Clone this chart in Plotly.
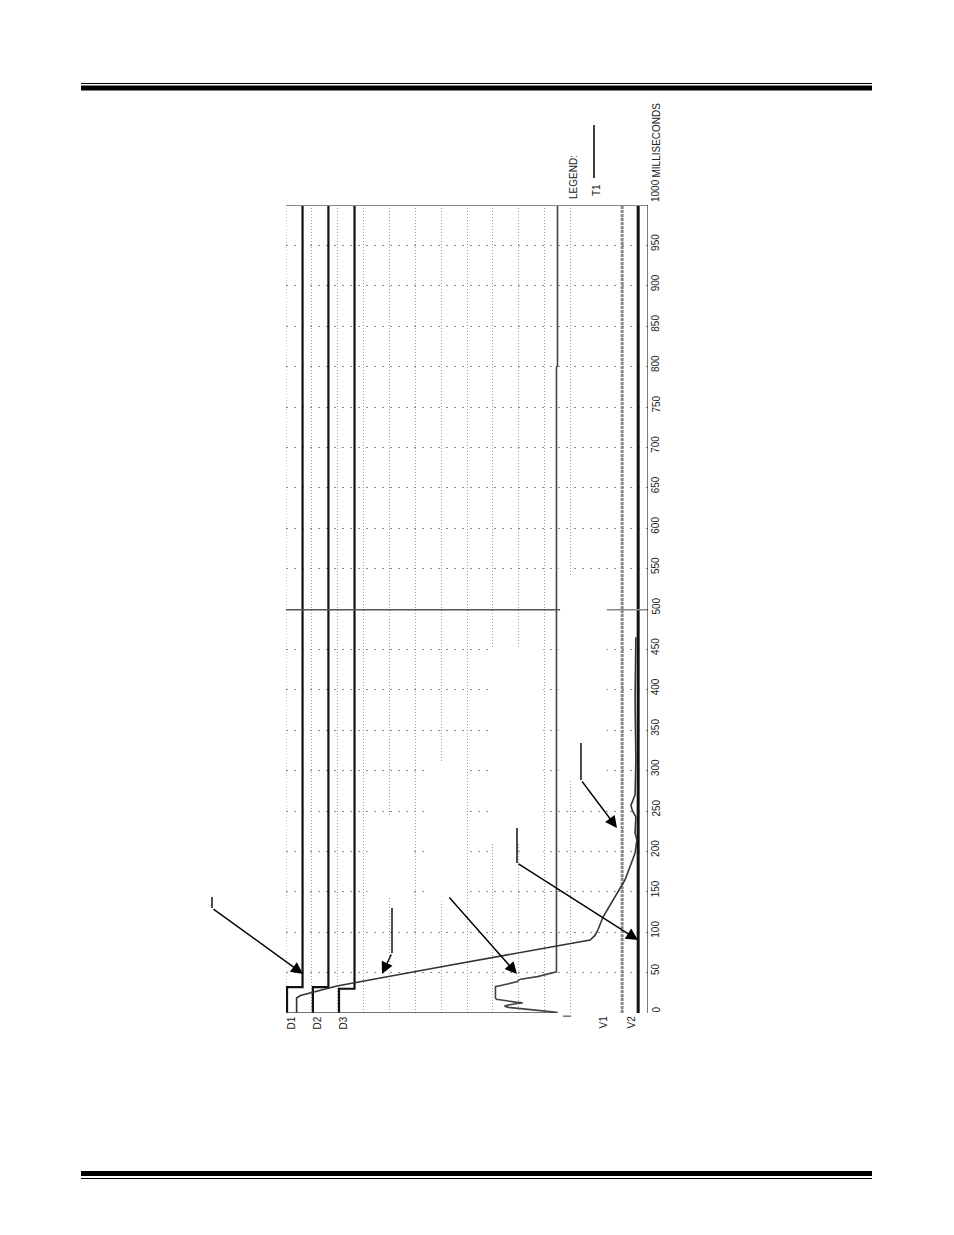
import plotly.graph_objects as go

# ---------------- data (time in ms, channel deflections in grid divisions) -------------
tick_ms = list(range(0, 1001, 50))
channel_names = ["D1", "D2", "D3", "I", "V1", "V2"]

# digital contact channels: state 0 -> 1 at switch time
d1_time = [0, 32, 1000]
d1_state = [0, 1, 1]
d2_time = [0, 32, 1000]
d2_state = [0, 1, 1]
d3_time = [0, 30, 1000]
d3_state = [0, 1, 1]

# coil current trace (deflection from its baseline)
i_time = [0, 1, 3, 5, 7, 8.5, 10, 11.5, 12.5, 13.5, 15, 17, 18.5, 32.5, 36, 38.8, 40.5,
          41.7, 45, 49, 51, 55, 799, 801, 1000]
i_val = [0.0, -0.04, -0.66, -1.32, -1.9, -2.05, -1.9, -1.62, -1.35, -1.62, -2.01, -2.36,
         -2.40, -2.40, -1.93, -1.55, -1.52, -1.43, -0.77, -0.27, -0.04, -0.04, -0.04, 0.0, 0.0]

# voltage channels (flat)
v1_time = [0, 1000]
v1_val = [0, 0]
v2_time = [0, 1000]
v2_val = [0, 0]

# travel trace T1 (grid divisions)
t1_time = [0, 18.6, 21.7, 26, 33.4, 57, 76.7, 87.9, 90.3, 96, 102.7, 118.8, 133.7, 148.5,
           164.6, 180.7, 198, 214, 223, 242.6, 250, 257, 270, 313, 387, 465]
t1_pos = [0.41, 0.41, 0.56, 1.04, 1.97, 5.96, 9.44, 11.37, 11.76, 11.95, 12.06, 12.26,
          12.53, 12.80, 13.11, 13.30, 13.50, 13.57, 13.50, 13.53, 13.40, 13.34, 13.50,
          13.53, 13.50, 13.53]

cursor_ms = [499, 499]

# ---------------- layout constants (page pixel coordinates) ------------------------
BODY = 8                      # default page margin of the html body
PLOT_L, PLOT_T = 286, 205     # plot area top-left on the page
PW, PH = 362, 808
W, H = 954 - 2 * BODY, 1235 - 2 * BODY
ML, MT = PLOT_L - BODY, PLOT_T - BODY
MR, MB = W - ML - PW, H - MT - PH


def px(x):
    return (x - PLOT_L) / PW


def py(y):
    return 1 - (y - PLOT_T) / PH


D_GAIN = 0.6
D_BASE = {"D1": 0.04, "D2": 1.04, "D3": 2.05}
I_BASE = 10.5
V1_BASE = 13.0
V2_BASE = 13.62

fig = go.Figure()


def add_line(x, y, color, width, shape="linear", dash="solid"):
    fig.add_trace(go.Scatter(x=x, y=y, mode="lines", hoverinfo="skip",
                             line=dict(color=color, width=width, shape=shape, dash=dash)))


for name, tt, st in [("D1", d1_time, d1_state), ("D2", d2_time, d2_state), ("D3", d3_time, d3_state)]:
    add_line([D_BASE[name] + s * D_GAIN for s in st], tt, "#111", 2.2, shape="vh")

add_line([V1_BASE + v for v in v1_val], v1_time, "#8a8a8a", 3, dash="3px,1px")
add_line([V2_BASE + v for v in v2_val], v2_time, "#111", 3)
add_line([I_BASE + v for v in i_val], i_time, "#444", 1.6)
add_line(t1_pos, t1_time, "#333", 1.6)
# time cursor
add_line([0, 10.6], cursor_ms, "#555", 1.6)
add_line([12.42, 14], cursor_ms, "#888", 1.6)

shapes = []
# white masks covering erased grid regions (below traces, above grid)
masks = [(10.55, 12.4, 290, 540), (7.9, 9.95, 210, 452), (8.05, 8.95, 195, 205),
         (9.05, 9.95, 195, 205), (5.35, 6.95, 138, 310), (3.15, 4.75, 143, 244),
         (10.55, 10.95, 540, 560)]
for x0, x1, y0, y1 in masks:
    shapes.append(dict(type="rect", xref="x", yref="y", x0=x0, x1=x1, y0=y0, y1=y1,
                       fillcolor="white", line=dict(width=0), layer="between"))
# borders
shapes.append(dict(type="line", xref="x", yref="y", x0=0, x1=0, y0=0, y1=1000,
                   line=dict(color="#9a9a9a", width=1, dash="1px,2px"), layer="below"))
shapes.append(dict(type="line", xref="x", yref="y", x0=0, x1=14, y0=1000, y1=1000,
                   line=dict(color="#8a8a8a", width=2)))
shapes.append(dict(type="line", xref="x", yref="y", x0=14, x1=14, y0=0, y1=1000,
                   line=dict(color="#222", width=1.2)))
shapes.append(dict(type="line", xref="x", yref="y", x0=0, x1=10.5, y0=0, y1=0,
                   line=dict(color="#444", width=1.5)))
# page rules
shapes.append(dict(type="line", xref="paper", yref="paper", x0=px(81), x1=px(872),
                   y0=py(83.5), y1=py(83.5), line=dict(color="black", width=1.2)))
shapes.append(dict(type="rect", xref="paper", yref="paper", x0=px(81), x1=px(872),
                   y0=py(90.5), y1=py(85.5), fillcolor="black", line=dict(width=0)))
shapes.append(dict(type="rect", xref="paper", yref="paper", x0=px(81), x1=px(872),
                   y0=py(1176), y1=py(1171), fillcolor="black", line=dict(width=0)))
shapes.append(dict(type="line", xref="paper", yref="paper", x0=px(81), x1=px(872),
                   y0=py(1178.5), y1=py(1178.5), line=dict(color="black", width=1.2)))
# legend sample line
shapes.append(dict(type="line", xref="paper", yref="paper", x0=px(594), x1=px(594),
                   y0=py(178), y1=py(125), line=dict(color="black", width=1.5)))

annotations = []
FONT = "Liberation Sans Narrow, Liberation Sans, Arial, sans-serif"
TXT = dict(family=FONT, size=10, color="#222")

for t in tick_ms:
    if t == 1000:
        annotations.append(dict(x=px(655.5), y=py(204), xref="paper", yref="paper", text=str(t),
                                showarrow=False, textangle=-90, font=TXT,
                                xanchor="center", yanchor="bottom"))
    else:
        annotations.append(dict(x=px(655.5), y=t, xref="paper", yref="y", text=str(t),
                                showarrow=False, textangle=-90, font=TXT,
                                xanchor="center", yanchor="middle", yshift=3))
annotations.append(dict(x=px(656), y=py(180), xref="paper", yref="paper", text="MILLISECONDS",
                        showarrow=False, textangle=-90, font=TXT, xanchor="center", yanchor="bottom"))
annotations.append(dict(x=px(573), y=py(201), xref="paper", yref="paper", text="LEGEND:",
                        showarrow=False, textangle=-90, font=TXT, xanchor="center", yanchor="bottom"))
annotations.append(dict(x=px(596), y=py(198), xref="paper", yref="paper", text="T1",
                        showarrow=False, textangle=-90, font=TXT, xanchor="center", yanchor="bottom"))

label_pos = {"D1": (291, 1015), "D2": (317, 1015), "D3": (343, 1015),
             "I": (567, 1013), "V1": (603, 1014), "V2": (631, 1014)}
for nm in channel_names:
    lx, ly = label_pos[nm]
    annotations.append(dict(x=px(lx), y=py(ly), xref="paper", yref="paper", text=nm,
                            showarrow=False, textangle=-90, font=TXT,
                            xanchor="center", yanchor="top"))

# pointer arrows: (tail_top, bend, head)
arrows = [((212, 897), (212, 908), (303, 974)),
          ((392, 908), (392, 953), (382, 974)),
          (None, (448, 896), (517, 974)),
          ((517, 828), (517, 863), (638, 940)),
          ((581, 743), (581, 780), (617, 828))]
for top, bend, head in arrows:
    if top is not None:
        shapes.append(dict(type="line", xref="paper", yref="paper",
                           x0=px(top[0]), y0=py(top[1]), x1=px(bend[0]), y1=py(bend[1]),
                           line=dict(color="black", width=1.4)))
    annotations.append(dict(x=px(head[0]), y=py(head[1]), xref="paper", yref="paper",
                            ax=bend[0] - head[0], ay=bend[1] - head[1], text="",
                            showarrow=True, arrowhead=2, arrowsize=1.7, arrowwidth=1.4,
                            arrowcolor="black", standoff=0))

fig.update_layout(
    width=W, height=H, autosize=False, showlegend=False,
    margin=dict(l=ML, r=MR, t=MT, b=MB, pad=0),
    paper_bgcolor="white", plot_bgcolor="white",
    shapes=shapes, annotations=annotations,
    xaxis=dict(range=[0, 14], tickvals=[0, 1, 2, 3, 4, 5, 6, 7, 8, 9, 10, 11, 13],
               showticklabels=False, ticks="", showgrid=True, gridcolor="#9a9a9a",
               gridwidth=1, griddash="1px,2px", zeroline=False, showline=False, fixedrange=True),
    yaxis=dict(range=[0, 1000], tick0=0, dtick=50, showticklabels=False, ticks="",
               showgrid=True, gridcolor="#8a8a8a", gridwidth=1, griddash="2px,6px",
               zeroline=False, showline=False, fixedrange=True),
)

fig.write_html("out.html")
